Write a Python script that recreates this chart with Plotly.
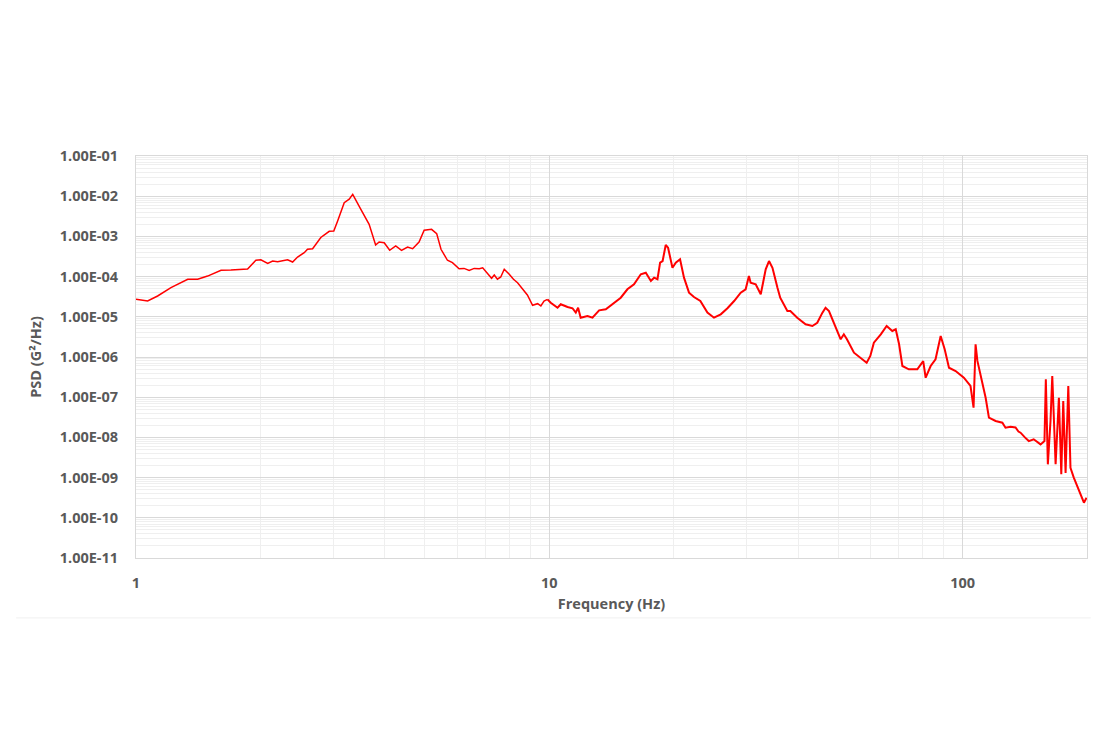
import plotly.graph_objects as go

# frequency (Hz) and PSD (G^2/Hz)
freq = [
    1.0, 1.067, 1.128, 1.215, 1.334, 1.41, 1.49, 1.606, 1.697, 1.862,
    1.95, 2.005, 2.083, 2.141, 2.201, 2.327, 2.393, 2.46, 2.553, 2.60,
    2.675, 2.80, 2.935, 3.01, 3.075, 3.19, 3.28, 3.345, 3.50, 3.665,
    3.80, 3.875, 3.986, 4.11, 4.25, 4.39, 4.54, 4.67, 4.84, 4.98,
    5.19, 5.34, 5.47, 5.67, 5.83, 6.05, 6.22, 6.40, 6.58, 6.77,
    6.90, 7.02, 7.25, 7.36, 7.49, 7.63, 7.78, 8.0, 8.19, 8.38,
    8.61, 8.85, 9.11, 9.37, 9.54, 9.71, 9.90, 10.08, 10.47, 10.66,
    11.07, 11.38, 11.59, 11.74, 11.91, 12.37, 12.72, 13.2, 13.7, 14.35,
    14.89, 15.45, 16.03, 16.65, 17.12, 17.61, 17.93, 18.27, 18.54, 18.8,
    19.13, 19.38, 19.86, 20.23, 20.72, 21.18, 21.78, 22.39, 23.2, 24.13,
    25.03, 25.99, 26.98, 28.0, 29.05, 29.86, 30.41, 30.7, 31.58, 32.48,
    33.39, 34.01, 34.67, 35.65, 36.2, 37.67, 38.3, 39.8, 41.7, 43.3,
    44.5, 45.8, 46.6, 47.5, 48.9, 50.7, 51.6, 52.5, 54.6, 56.6,
    58.6, 59.8, 61.0, 63.4, 65.5, 67.6, 68.9, 70.2, 71.5, 74.1,
    77.7, 80.3, 81.4, 83.7, 86.0, 88.5, 90.5, 92.7, 96.2, 100.7,
    104.5, 106.3, 107.5, 108.6, 110.5, 113.7, 115.8, 120.2, 124.8, 127.0,
    130.6, 134.3, 136.5, 138.1, 141.5, 144.6, 148.6, 151.8, 154.4, 157.8,
    159.0, 160.8, 163.2, 164.8, 166.3, 167.9, 171.0, 173.3, 175.2, 177.5,
    180.2, 182.4, 185.8, 191.0, 196.6, 199.5,
]
psd = [
    2.72e-5, 2.47e-5, 3.29e-5, 5.30e-5, 8.57e-5, 8.6e-5, 1.03e-4, 1.43e-4, 1.45e-4, 1.55e-4,
    2.55e-4, 2.63e-4, 2.14e-4, 2.44e-4, 2.35e-4, 2.63e-4, 2.31e-4, 3.07e-4, 3.93e-4, 4.78e-4,
    4.94e-4, 9.4e-4, 1.34e-3, 1.36e-3, 2.42e-3, 6.9e-3, 8.4e-3, 1.11e-2, 4.72e-3, 2.0e-3,
    6.1e-4, 7.26e-4, 6.97e-4, 4.51e-4, 5.77e-4, 4.5e-4, 5.45e-4, 4.94e-4, 7.26e-4, 1.42e-3,
    1.50e-3, 1.17e-3, 4.78e-4, 2.55e-4, 2.22e-4, 1.57e-4, 1.6e-4, 1.43e-4, 1.6e-4, 1.57e-4,
    1.66e-4, 1.32e-4, 9.1e-5, 1.10e-4, 8.6e-5, 9.8e-5, 1.52e-4, 1.14e-4, 8.6e-5, 7.05e-5,
    5.1e-5, 3.49e-5, 1.93e-5, 2.12e-5, 1.86e-5, 2.47e-5, 2.72e-5, 2.24e-5, 1.68e-5, 2.05e-5,
    1.75e-5, 1.63e-5, 1.27e-5, 1.68e-5, 9.5e-6, 1.05e-5, 9.5e-6, 1.45e-5, 1.54e-5, 2.24e-5,
    2.99e-5, 4.83e-5, 6.43e-5, 1.14e-4, 1.25e-4, 7.8e-5, 9.4e-5, 8.6e-5, 2.22e-4, 2.44e-4,
    6.1e-4, 5.24e-4, 1.66e-4, 2.22e-4, 2.69e-4, 9.4e-5, 3.98e-5, 3.11e-5, 2.47e-5, 1.27e-5,
    9.5e-6, 1.15e-5, 1.63e-5, 2.47e-5, 3.98e-5, 4.83e-5, 1.03e-4, 7.05e-5, 6.43e-5, 3.63e-5,
    1.52e-4, 2.44e-4, 1.66e-4, 5.3e-5, 2.99e-5, 1.39e-5, 1.39e-5, 9.5e-6, 6.5e-6, 5.9e-6,
    7.1e-6, 1.27e-5, 1.68e-5, 1.39e-5, 6.5e-6, 2.75e-6, 3.67e-6, 2.75e-6, 1.28e-6, 9.6e-7,
    7.2e-7, 1.06e-6, 2.27e-6, 3.67e-6, 5.9e-6, 4.43e-6, 4.89e-6, 2.07e-6, 5.97e-7, 4.94e-7,
    4.94e-7, 7.9e-7, 3.05e-7, 5.97e-7, 8.8e-7, 3.33e-6, 1.56e-6, 5.4e-7, 4.49e-7, 3.05e-7,
    1.9e-7, 5.5e-8, 2.07e-6, 8.0e-7, 3.7e-7, 9.7e-8, 3.1e-8, 2.56e-8, 2.32e-8, 1.74e-8,
    1.85e-8, 1.77e-8, 1.4e-8, 1.31e-8, 1.0e-8, 8.1e-9, 8.97e-9, 7.5e-9, 6.7e-9, 8.1e-9,
    2.79e-7, 2.14e-9, 2.6e-8, 3.37e-7, 2.56e-8, 2.14e-9, 9.7e-8, 1.21e-9, 8.0e-8, 1.3e-9,
    1.9e-7, 1.76e-9, 1.0e-9, 5.1e-10, 2.38e-10, 3.16e-10,
]

y_tickvals = [1e-1, 1e-2, 1e-3, 1e-4, 1e-5, 1e-6, 1e-7, 1e-8, 1e-9, 1e-10, 1e-11]
y_ticktext = ["1.00E-01", "1.00E-02", "1.00E-03", "1.00E-04", "1.00E-05", "1.00E-06",
              "1.00E-07", "1.00E-08", "1.00E-09", "1.00E-10", "1.00E-11"]
x_tickvals = [1, 10, 100]
x_ticktext = ["1", "10", "100"]

font_col = "#595959"
major_grid = "#d9d9d9"
minor_grid = "#efefef"
tick_font = dict(family="Open Sans", size=14.5, color=font_col, weight="bold")
title_font = dict(family="Open Sans", size=14.5, color=font_col, weight="bold")

# the measured trace is noisier above ~10 Hz, so it draws a bit heavier there
split = freq.index(9.90)

fig = go.Figure()
fig.add_trace(go.Scatter(x=freq[:split + 1], y=psd[:split + 1], mode="lines",
                         line=dict(color="#ff0000", width=1.5),
                         showlegend=False))
fig.add_trace(go.Scatter(x=freq[split:], y=psd[split:], mode="lines",
                         line=dict(color="#ff0000", width=2),
                         showlegend=False))

fig.update_xaxes(
    type="log", range=[0, 2.301],
    tickvals=x_tickvals, ticktext=x_ticktext,
    showgrid=True, gridcolor=major_grid, gridwidth=1,
    minor=dict(dtick="D1", showgrid=True, gridcolor=minor_grid, gridwidth=1),
    showline=True, linecolor=major_grid, linewidth=1, mirror=True,
    ticks="outside", ticklen=12, tickcolor="rgba(0,0,0,0)",
    tickfont=tick_font,
    title=dict(text="Frequency (Hz)", standoff=7, font=title_font),
    zeroline=False,
)
fig.update_yaxes(
    type="log", range=[-11, -1],
    tickvals=y_tickvals, ticktext=y_ticktext,
    showgrid=True, gridcolor=major_grid, gridwidth=1,
    minor=dict(dtick="D1", showgrid=True, gridcolor=minor_grid, gridwidth=1),
    showline=True, linecolor=major_grid, linewidth=1, mirror=True,
    ticks="outside", ticklen=14, tickcolor="rgba(0,0,0,0)",
    tickfont=tick_font,
    title=dict(text="PSD (G²/Hz)", standoff=14, font=title_font),
    zeroline=False,
)

# faint chart-area border line under the axis title
fig.add_shape(type="line", xref="paper", yref="paper",
              x0=-0.126, x1=1.004, y0=-0.149, y1=-0.149,
              line=dict(color="#f0f0f0", width=1))

fig.update_layout(
    width=1107, height=738,
    margin=dict(l=128, r=28, t=148, b=188),
    paper_bgcolor="white", plot_bgcolor="white",
)

fig.write_html("out.html")
